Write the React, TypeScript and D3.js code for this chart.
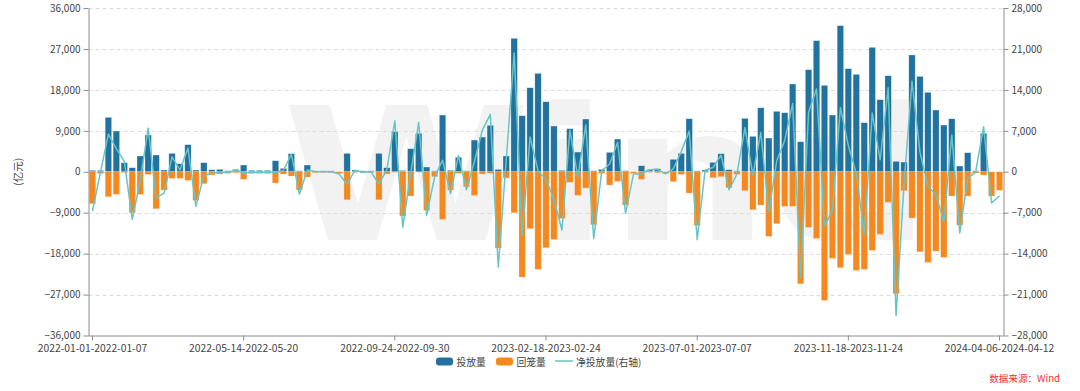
import React, { useRef, useEffect } from "react";
import * as d3 from "d3";

// 投放量 (亿元), weekly
const invest = [
  300, 300, 11950, 8940, 1980, 880, 3450, 8060, 3670, 370,
  4030, 1760, 5940, 370, 1980, 440, 510, 220, 510, 1470,
  300, 300, 300, 2420, 730, 3960, 200, 1470, 200, 200,
  200, 0, 4030, 370, 200, 200, 4030, 880, 8800, 270,
  5060, 8430, 1030, 200, 12460, 300, 3150, 200, 6960, 7620,
  10190, 510, 3450, 29320, 12310, 18470, 21620, 15390, 10040, 300,
  9460, 4320, 11580, 220, 510, 4250, 7180, 220, 0, 1320,
  440, 660, 0, 2710, 4030, 11650, 200, 370, 2050, 3960,
  440, 200, 11730, 7770, 14070, 7400, 13270, 12970, 19280, 6600,
  22430, 28810, 18980, 12460, 32110, 22650, 21400, 10780, 27340, 15830,
  21110, 2270, 2130, 25660, 20960, 17450, 13560, 10260, 11650, 1250,
  4180, 220, 8430, 0, 0,
];

// 回笼量 (亿元)
const withdraw = [
  -7040, -400, -5500, -4980, -200, -9000, -5000, -600, -8140, -4030,
  -1470, -1470, -1900, -6300, -2640, -730, -510, -370, -220, -1690,
  -400, -400, -400, -2490, -510, -950, -4030, -1170, -200, -200,
  -200, -400, -6160, -100, -300, -200, -6160, -510, -100, -9750,
  -5350, 0, -8500, -1100, -10480, -4030, -370, -3300, -5200, -510,
  -370, -16800, -1390, -9020, -23160, -12530, -21480, -16710, -14880, -10260,
  -2350, -5200, -3590, -11650, -370, -2930, -2130, -7330, -370, -1690,
  -100, -220, -370, -2200, -590, -4690, -11800, -100, -1320, -1100,
  -3520, -590, -4180, -8360, -7330, -14220, -11430, -7620, -7620, -24630,
  -12240, -14660, -28290, -19060, -21110, -18180, -21700, -21480, -17300, -13780,
  -6740, -26830, -4180, -10190, -17600, -19940, -17450, -18840, -5350, -11730,
  -5350, -290, -730, -5350, -4100,
];

// 净投放量 (右轴)
const net = [
  -6740, -100, 6450, 3960, 1780, -8120, -1550, 7460, -4470, -3660,
  2560, 290, 4040, -5930, -660, -290, 0, -150, 290, -220,
  -100, -100, -100, -70, 220, 3010, -3830, 300, 0, 0,
  0, -400, -2130, 270, -100, 0, -2130, 370, 8700, -9480,
  -290, 8430, -7470, -900, 1980, -3730, 2780, -3100, 1760, 7110,
  9820, -16290, 2060, 20300, -10850, 5940, 140, -1320, -4840, -9960,
  7110, -880, 7990, -11430, 140, 1320, 5050, -7110, -370, -370,
  340, 440, -370, 510, 3440, 6960, -11600, 270, 730, 2860,
  -3080, -390, 7550, -590, 6740, -6820, 1840, 5350, 11660, -18030,
  10190, 14150, -9310, -6600, 11000, 4470, -300, -10700, 10040, 2050,
  14370, -24560, -2050, 15470, 3360, -2490, -3890, -8580, 6300, -10480,
  -1170, -70, 7700, -5350, -4100,
];

const tickLabels = [
  "2022-01-01-2022-01-07",
  "2022-05-14-2022-05-20",
  "2022-09-24-2022-09-30",
  "2023-02-18-2023-02-24",
  "2023-07-01-2023-07-07",
  "2023-11-18-2023-11-24",
  "2024-04-06-2024-04-12",
];
const tickEvery = 19;

const leftTicks = [-36000, -27000, -18000, -9000, 0, 9000, 18000, 27000, 36000];
const rightTicks = [-28000, -21000, -14000, -7000, 0, 7000, 14000, 21000, 28000];

const BLUE = "#21729f";
const ORANGE = "#f5891f";
const TEAL = "#66c6c6";
const TEXT = "#444";
const FONT = "'Noto Sans CJK SC', 'Noto Sans', sans-serif";

const App: React.FC = () => {
  const svgRef = useRef<SVGSVGElement | null>(null);

  useEffect(() => {
    if (!svgRef.current) return;
    const svg = d3.select(svgRef.current);
    svg.selectAll("*").remove();

    const width = 1080;
    const height = 391;
    const left = 88.5;
    const right = 1003.5;
    const top = 8;
    const bottom = 335.5;

    svg.attr("width", width).attr("height", height);

    const idx = d3.range(invest.length);
    const x = d3
      .scaleBand<number>()
      .domain(idx)
      .range([left, right])
      .paddingInner(0.2)
      .paddingOuter(0.1);
    const cx = (i: number) => (x(i) || 0) + x.bandwidth() / 2;

    const yL = d3.scaleLinear().domain([-36000, 36000]).range([bottom, top]);
    const yR = d3.scaleLinear().domain([-28000, 28000]).range([bottom, top]);

    // watermark
    svg
      .append("text")
      .attr("x", 282)
      .attr("y", 240)
      .attr("textLength", 650)
      .attr("lengthAdjust", "spacingAndGlyphs")
      .attr("font-family", "'DejaVu Sans', sans-serif")
      .attr("font-weight", "bold")
      .attr("font-size", 185)
      .attr("fill", "#000")
      .attr("fill-opacity", 0.05)
      .text("Wind");

    // grid
    svg
      .append("g")
      .selectAll("line")
      .data(leftTicks.filter((d) => d !== -36000))
      .join("line")
      .attr("x1", left)
      .attr("x2", right)
      .attr("y1", (d) => Math.round(yL(d)) + 0.5)
      .attr("y2", (d) => Math.round(yL(d)) + 0.5)
      .attr("stroke", "#dcdcdc")
      .attr("stroke-dasharray", "4,3");

    // bars
    const gBars = svg.append("g");
    gBars
      .selectAll("rect.inv")
      .data(idx)
      .join("rect")
      .attr("class", "inv")
      .attr("x", (i) => x(i) || 0)
      .attr("width", x.bandwidth())
      .attr("y", (i) => yL(invest[i]))
      .attr("height", (i) => yL(0) - yL(invest[i]))
      .attr("fill", BLUE)
      .attr("stroke", "#ffffff")
      .attr("stroke-opacity", 0.35)
      .attr("stroke-width", 0.6);

    gBars
      .selectAll("rect.wd")
      .data(idx)
      .join("rect")
      .attr("class", "wd")
      .attr("x", (i) => x(i) || 0)
      .attr("width", x.bandwidth())
      .attr("y", yL(0))
      .attr("height", (i) => yL(withdraw[i]) - yL(0))
      .attr("fill", ORANGE)
      .attr("stroke", "#ffffff")
      .attr("stroke-opacity", 0.35)
      .attr("stroke-width", 0.6);

    // net line
    const line = d3
      .line<number>()
      .x((i) => cx(i))
      .y((i) => yR(net[i]));
    svg
      .append("path")
      .datum(idx)
      .attr("d", line)
      .attr("fill", "none")
      .attr("stroke", TEAL)
      .attr("stroke-width", 1.5)
      .attr("stroke-linejoin", "round");

    const styleAxis = (g: d3.Selection<SVGGElement, unknown, null, undefined>, fs: number) => {
      g.selectAll(".domain").attr("stroke", "#8c8c8c");
      g.selectAll(".tick line").attr("stroke", "#8c8c8c");
      g.selectAll("text")
        .attr("fill", TEXT)
        .attr("font-size", fs)
        .attr("font-family", FONT);
    };

    // left axis
    const gL = svg
      .append("g")
      .attr("transform", `translate(${left},0)`)
      .call(
        d3
          .axisLeft(yL)
          .tickValues(leftTicks)
          .tickSize(5)
          .tickSizeOuter(0)
          .tickFormat((d) => d3.format(",")(d as number))
      );
    styleAxis(gL, 10);

    // right axis
    const gR = svg
      .append("g")
      .attr("transform", `translate(${right},0)`)
      .call(
        d3
          .axisRight(yR)
          .tickValues(rightTicks)
          .tickSize(5)
          .tickSizeOuter(0)
          .tickFormat((d) => d3.format(",")(d as number))
      );
    styleAxis(gR, 10);

    // bottom axis
    const tickIdx = tickLabels.map((_, k) => k * tickEvery);
    const gB = svg
      .append("g")
      .attr("transform", `translate(0,${bottom})`)
      .call(
        d3
          .axisBottom(x)
          .tickValues(tickIdx)
          .tickSize(5)
          .tickSizeOuter(0)
          .tickFormat((d) => tickLabels[(d as number) / tickEvery])
      );
    styleAxis(gB, 10.3);
    gB.selectAll("text").attr("y", 8.5).attr("dy", "0.8em");
    gB.select(".domain").attr("d", `M${left},0.5H${right}`);

    // y axis title
    svg
      .append("text")
      .attr("transform", `translate(22,${yL(0)}) rotate(-90)`)
      .attr("text-anchor", "middle")
      .attr("font-size", 10.5)
      .attr("font-family", FONT)
      .attr("fill", TEXT)
      .text("(亿元)");

    // legend
    const lg = svg.append("g").attr("font-family", FONT).attr("font-size", 9.8).attr("fill", TEXT);
    const items = [
      { name: "投放量", color: BLUE, type: "rect", x: 436 },
      { name: "回笼量", color: ORANGE, type: "rect", x: 496 },
      { name: "净投放量(右轴)", color: TEAL, type: "line", x: 555 },
    ];
    items.forEach((it) => {
      if (it.type === "rect") {
        lg.append("rect")
          .attr("x", it.x)
          .attr("y", 357.5)
          .attr("width", 17)
          .attr("height", 8)
          .attr("rx", 3)
          .attr("fill", it.color);
      } else {
        lg.append("line")
          .attr("x1", it.x)
          .attr("x2", it.x + 18)
          .attr("y1", 361)
          .attr("y2", 361)
          .attr("stroke", it.color)
          .attr("stroke-width", 1.5);
      }
      lg.append("text")
        .attr("x", it.x + (it.type === "rect" ? 20.5 : 21))
        .attr("y", 365.5)
        .text(it.name);
    });

    // source
    svg
      .append("text")
      .attr("x", 1060)
      .attr("y", 382)
      .attr("text-anchor", "end")
      .attr("font-size", 9.6)
      .attr("font-family", FONT)
      .attr("fill", "#e8312f")
      .text("数据来源：Wind");
  }, []);

  return (
    <div style={{ position: "absolute", left: 0, top: 0, background: "#fff" }}>
      <svg ref={svgRef} style={{ display: "block" }} />
    </div>
  );
};

export default App;
